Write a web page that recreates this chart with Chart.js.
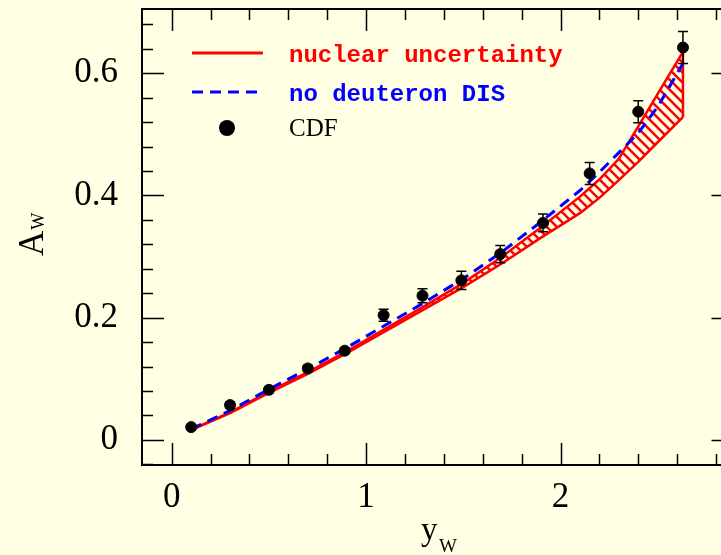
<!DOCTYPE html>
<html>
<head>
<meta charset="utf-8">
<script src="https://cdn.jsdelivr.net/npm/chart.js@4.4.1/dist/chart.umd.min.js"></script>
<style>
html, body { margin: 0; padding: 0; overflow: hidden; background: #ffffe4; }
#wrap { width: 740px; height: 555px; }
</style>
</head>
<body>
<div id="wrap"><canvas id="chart_1" width="740" height="555"></canvas></div>
<script>
// CDF points
var cdfY = [0.1, 0.3, 0.5, 0.7, 0.89, 1.09, 1.29, 1.49, 1.69, 1.91, 2.15, 2.4, 2.63];
var cdfA = [0.021, 0.057, 0.082, 0.117, 0.146, 0.204, 0.236, 0.261, 0.304, 0.355, 0.436, 0.537, 0.642];
var cdfErr = [0.004, 0.005, 0.005, 0.005, 0.005, 0.010, 0.0115, 0.015, 0.014, 0.0145, 0.018, 0.018, 0.026];

// theory curves
var curveY = [0.1, 0.3, 0.5, 0.7, 0.9, 1.1, 1.3, 1.5, 1.7, 1.9, 2.1, 2.2, 2.3, 2.4, 2.5, 2.63];
var nuclLow = [0.016, 0.044, 0.077, 0.108, 0.142, 0.178, 0.214, 0.250, 0.289, 0.331, 0.371, 0.396, 0.425, 0.455, 0.487, 0.528];
var nuclHigh = [0.017, 0.045, 0.079, 0.111, 0.145, 0.182, 0.219, 0.257, 0.300, 0.348, 0.398, 0.426, 0.460, 0.513, 0.566, 0.635];
var noDeut = [0.018, 0.048, 0.083, 0.116, 0.151, 0.188, 0.225, 0.264, 0.308, 0.357, 0.408, 0.438, 0.470, 0.502, 0.545, 0.616];

var xTicks = [0, 1, 2];
var xTickLabels = ['0', '1', '2'];
var yTicks = [0, 0.2, 0.4, 0.6];
var yTickLabels = ['0', '0.2', '0.4', '0.6'];
var xTitle = ['y', 'W'];
var yTitle = ['A', 'W'];
var legendLabels = ['nuclear uncertainty', 'no deuteron DIS', 'CDF'];

function pts(xs, ys) {
    return xs.map(function (x, i) { return { x: x, y: ys[i] }; });
}

var canvas = document.getElementById('chart_1');
var hatchCanvas = document.createElement('canvas');
hatchCanvas.width = 10;
hatchCanvas.height = 10;
var hg = hatchCanvas.getContext('2d');
hg.strokeStyle = '#ff0000';
hg.lineWidth = 2.5;
hg.beginPath();
hg.moveTo(-1, -1); hg.lineTo(11, 11);
hg.moveTo(-1, 9); hg.lineTo(1, 11);
hg.moveTo(9, -1); hg.lineTo(11, 1);
hg.stroke();
var hatch = canvas.getContext('2d').createPattern(hatchCanvas, 'repeat');

var last = curveY.length - 1;

function noPad(s) {
    s.paddingTop = 0; s.paddingBottom = 0;
    s.paddingLeft = 0; s.paddingRight = 0;
}

var decor = {
    id: 'decor',
    afterDatasetsDraw: function (chart) {
        var ctx = chart.ctx, xs = chart.scales.x, ys = chart.scales.y;
        ctx.save();
        ctx.strokeStyle = '#000';
        ctx.lineWidth = 1.5;
        ctx.beginPath();
        cdfY.forEach(function (x, i) {
            var px = xs.getPixelForValue(x);
            var y1 = ys.getPixelForValue(cdfA[i] - cdfErr[i]);
            var y2 = ys.getPixelForValue(cdfA[i] + cdfErr[i]);
            ctx.moveTo(px, y1); ctx.lineTo(px, y2);
            ctx.moveTo(px - 5, y1); ctx.lineTo(px + 5, y1);
            ctx.moveTo(px - 5, y2); ctx.lineTo(px + 5, y2);
        });
        ctx.stroke();
        ctx.restore();
    },
    afterDraw: function (chart) {
        var ctx = chart.ctx, a = chart.chartArea;
        var xs = chart.scales.x, ys = chart.scales.y;
        ctx.save();
        // frame
        ctx.strokeStyle = '#000';
        ctx.lineWidth = 2;
        ctx.strokeRect(a.left, a.top, a.right - a.left, a.bottom - a.top);
        // inward ticks
        ctx.lineWidth = 1.5;
        ctx.beginPath();
        for (var i = -1; i <= 15; i++) {
            var v = i * 0.2;
            if (v < xs.min || v > xs.max) continue;
            var px = Math.round(xs.getPixelForValue(v)) + 0.5;
            var len = (i % 5 === 0) ? 22 : 11;
            ctx.moveTo(px, a.bottom); ctx.lineTo(px, a.bottom - len);
            ctx.moveTo(px, a.top); ctx.lineTo(px, a.top + len);
        }
        for (var j = -2; j <= 18; j++) {
            var w = j * 0.04;
            if (w < ys.min || w > ys.max) continue;
            var py = Math.round(ys.getPixelForValue(w)) + 0.5;
            var l2 = (j % 5 === 0) ? 22 : 11;
            ctx.moveTo(a.left, py); ctx.lineTo(a.left + l2, py);
            ctx.moveTo(a.right, py); ctx.lineTo(a.right - l2, py);
        }
        ctx.stroke();

        // legend
        ctx.lineWidth = 3;
        ctx.strokeStyle = '#ff0000';
        ctx.beginPath(); ctx.moveTo(192, 53); ctx.lineTo(263, 53); ctx.stroke();
        ctx.strokeStyle = '#0000ff';
        ctx.setLineDash([11, 7]);
        ctx.beginPath(); ctx.moveTo(192, 92); ctx.lineTo(258, 92); ctx.stroke();
        ctx.setLineDash([]);
        ctx.fillStyle = '#000';
        ctx.beginPath(); ctx.arc(227, 128, 8, 0, Math.PI * 2); ctx.fill();
        ctx.textAlign = 'left';
        ctx.textBaseline = 'alphabetic';
        ctx.font = 'bold 24px "Liberation Mono"';
        ctx.fillStyle = '#ff0000';
        ctx.fillText(legendLabels[0], 289, 62);
        ctx.fillStyle = '#0000ff';
        ctx.fillText(legendLabels[1], 289, 101);
        ctx.fillStyle = '#000';
        ctx.font = '25px "Liberation Serif"';
        ctx.fillText(legendLabels[2], 289, 136);

        // axis titles
        ctx.font = '33px "Liberation Serif"';
        ctx.fillText(xTitle[0], 421, 540);
        ctx.font = '19px "Liberation Serif"';
        ctx.fillText(xTitle[1], 439, 552);

        ctx.translate(43, 256);
        ctx.rotate(-Math.PI / 2);
        ctx.font = '35px "Liberation Serif"';
        ctx.fillText(yTitle[0], 0, 0);
        var aw = ctx.measureText(yTitle[0]).width;
        ctx.font = '18px "Liberation Serif"';
        ctx.fillText(yTitle[1], aw + 1, 1);
        ctx.restore();
    }
};

var chart1 = new Chart(canvas, {
    type: 'scatter',
    data: {
        datasets: [
            {
                label: legendLabels[2],
                data: pts(cdfY, cdfA),
                pointRadius: 5.5,
                pointBackgroundColor: '#000',
                pointBorderColor: '#000',
                showLine: false
            },
            {
                label: legendLabels[1],
                data: pts(curveY, noDeut),
                showLine: true,
                borderColor: '#0000ff',
                borderWidth: 3,
                borderDash: [11, 7],
                pointRadius: 0,
                fill: false,
                tension: 0
            },
            {
                label: legendLabels[0],
                data: pts(curveY, nuclHigh),
                showLine: true,
                borderColor: '#ff0000',
                borderWidth: 2.5,
                backgroundColor: hatch,
                pointRadius: 0,
                fill: '+1',
                tension: 0
            },
            {
                label: 'lower',
                data: pts(curveY, nuclLow),
                showLine: true,
                borderColor: '#ff0000',
                borderWidth: 2.5,
                pointRadius: 0,
                fill: false,
                tension: 0
            },
            {
                label: 'edge',
                data: [{ x: curveY[last], y: nuclLow[last] }, { x: curveY[last], y: nuclHigh[last] }],
                showLine: true,
                borderColor: '#ff0000',
                borderWidth: 2.5,
                pointRadius: 0,
                fill: false
            }
        ]
    },
    options: {
        responsive: false,
        animation: false,
        layout: { padding: { top: 9, right: 5, left: 0, bottom: 0 } },
        plugins: {
            legend: { display: false },
            tooltip: { enabled: false }
        },
        scales: {
            x: {
                type: 'linear',
                min: -0.153,
                max: 2.89,
                afterBuildTicks: function (s) { s.ticks = xTicks.map(function (v) { return { value: v }; }); },
                afterFit: function (s) { s.height = 90; noPad(s); },
                grid: { display: false },
                border: { display: false },
                ticks: {
                    color: '#000',
                    font: { family: 'Liberation Serif', size: 35 },
                    padding: 4,
                    maxRotation: 0,
                    autoSkip: false,
                    callback: function (v, i) { return xTickLabels[i]; }
                }
            },
            y: {
                type: 'linear',
                min: -0.041,
                max: 0.705,
                afterBuildTicks: function (s) { s.ticks = yTicks.map(function (v) { return { value: v }; }); },
                afterFit: function (s) { s.width = 142; noPad(s); },
                grid: { display: false },
                border: { display: false },
                ticks: {
                    color: '#000',
                    font: { family: 'Liberation Serif', size: 35 },
                    padding: 16,
                    autoSkip: false,
                    callback: function (v, i) { return yTickLabels[i]; }
                }
            }
        }
    },
    plugins: [decor]
});
</script>
</body>
</html>
